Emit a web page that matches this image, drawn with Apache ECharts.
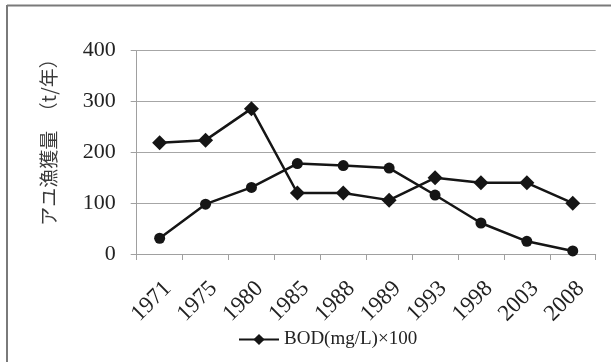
<!DOCTYPE html>
<html>
<head>
<meta charset="utf-8">
<script src="https://cdn.jsdelivr.net/npm/echarts@6/dist/echarts.min.js"></script>
<style>
html,body{margin:0;padding:0;background:#fff;}
#c{width:611px;height:362px;}
</style>
</head>
<body>
<div id="c"></div>
<script>
const categories = ['1971','1975','1980','1985','1988','1989','1993','1998','2003','2008'];
const ayuCatch = [31, 98, 131, 178, 174, 169, 116, 61, 25, 6];
const bod100 = [219, 224, 286, 120, 120, 106, 150, 140, 140, 100];
const yTicks = { min: 0, max: 400, interval: 100 };
const yTitle = 'アユ漁獲量　（t/年）';
const legendName = 'BOD(mg/L)×100';

const chart = echarts.init(document.getElementById('c'), null, { renderer: 'canvas' });
const serif = 'Liberation Serif';
chart.setOption({
  backgroundColor: '#fff',
  animation: false,
  grid: { left: 136.7, right: 15.3, top: 50.7, bottom: 108, containLabel: false },
  graphic: [
    { type: 'line', shape: { x1: 7, y1: 5.5, x2: 611, y2: 5.5 }, style: { stroke: '#7a7a7a', lineWidth: 2 } },
    { type: 'line', shape: { x1: 7, y1: 5, x2: 7, y2: 362 }, style: { stroke: '#7a7a7a', lineWidth: 2 } },
    { type: 'text', x: 49, y: 137.5, rotation: Math.PI / 2,
      style: { text: yTitle, font: '19px "Noto Sans CJK JP"', fill: '#3a3a3a', align: 'center', verticalAlign: 'middle' } }
  ],
  legend: {
    data: [legendName], left: 238, top: 330, padding: 0, itemWidth: 40, itemHeight: 14, itemGap: 2,
    textStyle: { fontFamily: serif, fontSize: 19, color: '#222' }
  },
  xAxis: {
    type: 'category', data: categories, boundaryGap: true,
    axisLine: { lineStyle: { color: '#a0a0a0', width: 1 } },
    axisTick: { show: true, length: 6, lineStyle: { color: '#a0a0a0' } },
    axisLabel: { rotate: 45, align: 'right', verticalAlign: 'top', margin: 23, fontFamily: serif, fontSize: 23, color: '#222' }
  },
  yAxis: {
    type: 'value', min: yTicks.min, max: yTicks.max, interval: yTicks.interval,
    axisLine: { show: true, lineStyle: { color: '#a0a0a0', width: 1 } },
    axisTick: { show: true, length: 6, lineStyle: { color: '#a0a0a0' } },
    splitLine: { lineStyle: { color: '#a6a6a6', width: 1 } },
    axisLabel: { margin: 21, fontFamily: serif, fontSize: 22, color: '#222' }
  },
  series: [
    { name: 'アユ漁獲量', type: 'line', data: ayuCatch, symbol: 'circle', symbolSize: 11,
      lineStyle: { color: '#151515', width: 2.5 }, itemStyle: { color: '#151515' } },
    { name: legendName, type: 'line', data: bod100, symbol: 'diamond', symbolSize: 15,
      lineStyle: { color: '#151515', width: 2.5 }, itemStyle: { color: '#151515' } }
  ]
});
</script>
</body>
</html>
